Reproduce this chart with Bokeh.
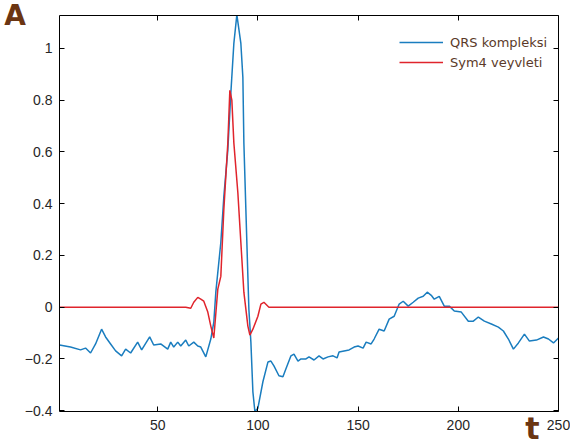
from bokeh.plotting import figure
from bokeh.models import LinearAxis, Range1d, Legend, LegendItem, FixedTicker
from bokeh.embed import file_html
from bokeh.resources import INLINE

# QRS complex (blue)
qrs_t = [1, 6.5, 11.5, 14, 16.5, 19, 22, 24, 26.5, 29, 32, 34, 36.5, 40, 42, 46, 48,
         51.5, 55, 56.5, 58, 60, 61.5, 64, 65.5, 68, 70, 71.5, 74, 76.5, 78, 79, 81.5,
         83, 85, 86.5, 88, 89.5, 91.5, 92.5, 93, 94, 95, 95.5, 96.5, 97.5, 98.5, 100,
         102.5, 105, 106.5, 108, 110.5, 112.5, 114, 116.5, 118, 120, 121.5, 124, 125.5,
         128, 130.5, 132.5, 135, 137.5, 139.5, 140.5, 143, 145.5, 148, 150, 152.5, 154,
         156.5, 158, 160.5, 163, 165.5, 168, 170.5, 172.5, 175, 177.5, 180, 182.5, 184.5,
         186.5, 188, 190.5, 193, 195.5, 198, 201.5, 205, 207.5, 210, 213, 216.5, 220,
         222.5, 225, 227.5, 230, 233, 235.5, 239, 242.5, 245, 247.5, 250]
qrs_v = [-0.146, -0.154, -0.165, -0.158, -0.177, -0.142, -0.085, -0.115, -0.142, -0.169,
         -0.188, -0.162, -0.177, -0.135, -0.165, -0.115, -0.146,
         -0.142, -0.162, -0.135, -0.154, -0.135, -0.150, -0.127, -0.150, -0.135, -0.150,
         -0.154, -0.192, -0.123, -0.058, 0.058, 0.250,
         0.427, 0.608, 0.827, 1.019, 1.130, 1.019, 0.888, 0.635, 0.377, 0.119, -0.008,
         -0.135, -0.327, -0.403, -0.390,
         -0.288, -0.212, -0.208, -0.227, -0.265, -0.269, -0.238, -0.188, -0.181, -0.208,
         -0.200, -0.200, -0.192,
         -0.204, -0.188, -0.200, -0.192, -0.188, -0.196, -0.173, -0.169, -0.165, -0.154,
         -0.150, -0.158, -0.135,
         -0.142, -0.123, -0.085, -0.092, -0.046, -0.035, 0.012, 0.023, 0.004, 0.019,
         0.035, 0.042, 0.058,
         0.046, 0.031, 0.042, 0.004, 0.004, -0.015, -0.019, -0.054, -0.054, -0.038,
         -0.054, -0.065, -0.077,
         -0.092, -0.123, -0.162, -0.138, -0.104, -0.131, -0.127, -0.115, -0.123, -0.138,
         -0.119]

# Sym4 wavelet (red)
sym_t = [1, 64, 66.5, 68, 70, 71.5, 73, 75, 76.5, 78, 80, 81.5, 83, 85, 86, 87, 88, 90,
         91.5, 93, 95, 96, 97.5, 100, 101.5, 103, 105.5, 250]
sym_v = [0.0, 0.0, -0.004, 0.019, 0.038, 0.031, 0.023, -0.019, -0.073, -0.119, 0.070,
         0.119, 0.377, 0.635, 0.838, 0.800, 0.635, 0.442, 0.250, 0.058, -0.073, -0.108,
         -0.085, -0.035, 0.012, 0.019, 0.0, 0.0]

x_ticks = [50, 100, 150, 200, 250]
y_ticks = [-0.4, -0.2, 0, 0.2, 0.4, 0.6, 0.8, 1]

x_min, x_max = 1, 250
y_min, y_max = -0.403, 1.127

p = figure(frame_width=499, frame_height=396, output_backend="svg", toolbar_location=None,
           x_range=Range1d(x_min, x_max), y_range=Range1d(y_min, y_max),
           min_border_left=59, min_border_right=12, min_border_top=15, min_border_bottom=37,
           x_axis_location=None, y_axis_location=None)
p.outline_line_color = None
p.xgrid.visible = False
p.ygrid.visible = False

def style_axis(ax, labels=True):
    ax.axis_line_color = "black"
    ax.axis_line_width = 1
    ax.major_tick_in = 5
    ax.major_tick_out = 0
    ax.minor_tick_line_color = None
    ax.major_tick_line_color = "black"
    ax.major_label_text_font = "Liberation Sans"
    ax.major_label_text_font_size = "14px"
    ax.major_label_text_color = "#262626"
    if not labels:
        ax.major_label_standoff = 0
        ax.major_label_overrides = {t: "" for t in ax.ticker.ticks}

xb = LinearAxis(ticker=FixedTicker(ticks=x_ticks), axis_label="t" + "\u00a0" * 5)
style_axis(xb)
xb.major_label_standoff = 8
xb.axis_label_standoff = -22
xb.axis_label_text_font = "DejaVu Sans"
xb.axis_label_text_font_style = "bold"
xb.axis_label_text_font_size = "30px"
xb.axis_label_text_color = "#6b3512"
xb.axis_label_align = "end"
p.add_layout(xb, "below")

yl = LinearAxis(ticker=FixedTicker(ticks=y_ticks), axis_label="A")
style_axis(yl)
yl.major_label_standoff = 7
yl.axis_label_standoff = -4
yl.axis_label_text_font = "DejaVu Sans"
yl.axis_label_text_font_style = "bold"
yl.axis_label_text_font_size = "28px"
yl.axis_label_text_color = "#6b3512"
yl.axis_label_orientation = "horizontal"
yl.axis_label_align = "end"
p.add_layout(yl, "left")

xt = LinearAxis(ticker=FixedTicker(ticks=x_ticks))
style_axis(xt, labels=False)
p.add_layout(xt, "above")
yr = LinearAxis(ticker=FixedTicker(ticks=y_ticks))
style_axis(yr, labels=False)
p.add_layout(yr, "right")

r1 = p.line(qrs_t, qrs_v, line_color="#1a7dbf", line_width=1.5)
r2 = p.line(sym_t, sym_v, line_color="#e0242c", line_width=1.5)

legend = Legend(items=[LegendItem(label="QRS kompleksi", renderers=[r1]),
                       LegendItem(label="Sym4 veyvleti", renderers=[r2])],
                location=(340, 339))
legend.border_line_color = None
legend.background_fill_alpha = 0
legend.glyph_width = 44
legend.glyph_height = 20
legend.label_height = 20
legend.label_standoff = 7
legend.spacing = 0
legend.padding = 8
legend.margin = 0
legend.label_text_font = "DejaVu Sans"
legend.label_text_font_size = "13px"
legend.label_text_color = "#5b3a29"
p.add_layout(legend)

open("out.html", "w").write(file_html(p, INLINE))
